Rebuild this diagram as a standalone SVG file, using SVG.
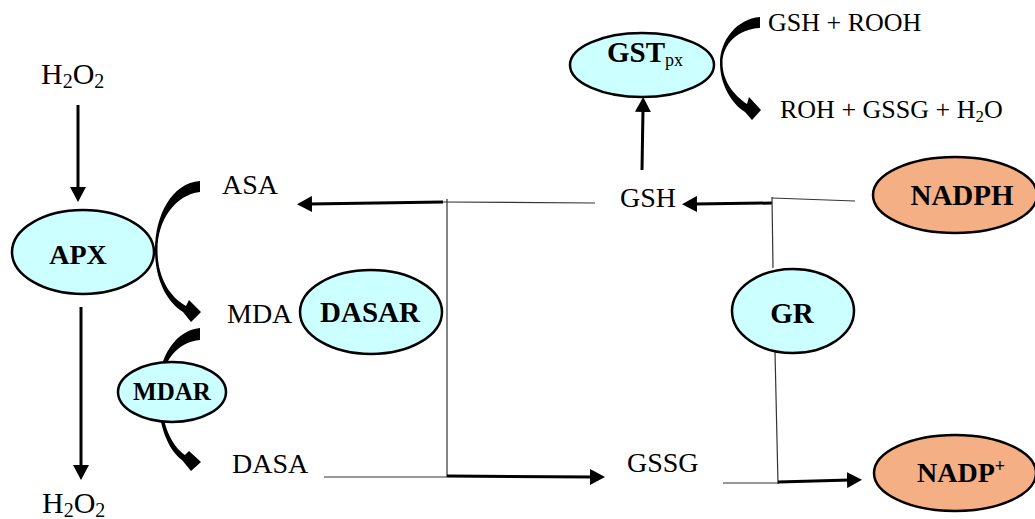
<svg xmlns="http://www.w3.org/2000/svg" width="1035" height="519" viewBox="0 0 1035 519">
  <defs>
    <style>
      .lbl { font-family: "Liberation Serif", "Times New Roman", serif; font-size: 28px; fill: #000; }
      .big { font-size: 30px; }
      .small { font-family: "Liberation Serif", "Times New Roman", serif; font-size: 26px; fill: #000; }
      .enz { font-family: "Liberation Serif", "Times New Roman", serif; font-weight: bold; fill: #000; text-anchor: middle; }
      .enz-left { font-family: "Liberation Serif", "Times New Roman", serif; font-weight: bold; fill: #000; text-anchor: start; }
      .cyan { fill: #CCFFFF; stroke: #000; stroke-width: 2.5; }
      .orange { fill: #F4B084; stroke: #000; stroke-width: 2.5; }
      .thick { stroke: #000; stroke-width: 3; fill: none; }
      .thin { stroke: #333; stroke-width: 1.2; fill: none; }
      .bend { fill: #000; stroke: none; }
    </style>
    <marker id="ah" markerUnits="userSpaceOnUse" markerWidth="16" markerHeight="16" refX="3" refY="8" orient="auto">
      <path d="M0,0 L15,8 L0,16 z" fill="#000"/>
    </marker>
  </defs>

  <rect width="1035" height="519" fill="#fff"/>

  <!-- connectors -->
  <g id="connectors">
    <!-- H2O2 in / out of APX -->
    <line class="thick" x1="78" y1="105" x2="78" y2="190" marker-end="url(#ah)"/>
    <line class="thick" x1="81" y1="307" x2="81" y2="468" marker-end="url(#ah)"/>

    <!-- curved arrows: ASA -> MDA, MDA -> DASA, GSH + ROOH -> products -->
    <path class="bend" d="M 200 181 C 172 183, 155 215, 155 250 C 155 280, 167 302, 183 312 L 191 322 L 201 312 L 189 300 L 186 306 C 170 297, 157.5 278, 157.5 250 C 157.5 220, 175 195, 200 192 Z"/>
    <path class="bend" d="M 200 328 C 177 330, 158 355, 158 392 C 158 425, 168 450, 182 460 L 191 471 L 201 462 L 189 451 L 185 455 C 172 446, 161 425, 161 392 C 161 360, 178 342, 200 340 Z"/>
    <path class="bend" d="M 760 17 C 737 19, 720 40, 720 63 C 720 85, 732 104, 745 112 L 752 120 L 761 110 L 749 97 L 747 104 C 735 96, 722.5 82, 722.5 63 C 722.5 44, 738 29, 760 28 Z"/>

    <!-- ascorbate / glutathione coupling -->
    <line class="thick" x1="443" y1="202" x2="309" y2="204" marker-end="url(#ah)"/>
    <line class="thin" x1="443" y1="202" x2="595" y2="203"/>
    <line class="thin" x1="447" y1="199" x2="447" y2="477"/>
    <line class="thin" x1="324" y1="477" x2="447" y2="477"/>
    <line class="thick" x1="447" y1="476" x2="593" y2="477" marker-end="url(#ah)"/>

    <!-- GSH -> GSTpx -->
    <line class="thick" x1="642" y1="170" x2="643" y2="109" marker-end="url(#ah)"/>

    <!-- NADPH / GR / NADP+ -->
    <line class="thick" x1="772" y1="203" x2="694" y2="204" marker-end="url(#ah)"/>
    <line class="thin" x1="772" y1="198" x2="855" y2="201"/>
    <line class="thin" x1="772" y1="197" x2="773" y2="268"/>
    <line class="thin" x1="775" y1="352" x2="778" y2="484"/>
    <line class="thin" x1="723" y1="483" x2="778" y2="483"/>
    <line class="thick" x1="778" y1="482" x2="850" y2="480" marker-end="url(#ah)"/>
  </g>

  <!-- metabolites -->
  <g id="h2o2-top">
    <text class="lbl big" x="41" y="84">H<tspan font-size="20" dy="4">2</tspan><tspan dy="-4">O</tspan><tspan font-size="20" dy="4">2</tspan></text>
  </g>
  <g id="h2o2-bottom">
    <text class="lbl big" x="42" y="513">H<tspan font-size="20" dy="4">2</tspan><tspan dy="-4">O</tspan><tspan font-size="20" dy="4">2</tspan></text>
  </g>
  <g id="asa"><text class="lbl" x="222" y="194">ASA</text></g>
  <g id="mda"><text class="lbl" x="227" y="323">MDA</text></g>
  <g id="dasa"><text class="lbl" x="232" y="473">DASA</text></g>
  <g id="gsh"><text class="lbl" x="620" y="207">GSH</text></g>
  <g id="gssg"><text class="lbl" x="627" y="472">GSSG</text></g>
  <g id="gsh-rooh"><text class="small" x="768" y="31">GSH + ROOH</text></g>
  <g id="roh-gssg-h2o"><text class="small" x="780" y="118">ROH + GSSG + H<tspan font-size="17" dy="4">2</tspan><tspan dy="-4">O</tspan></text></g>

  <!-- enzymes and cofactors -->
  <g id="apx">
    <ellipse class="cyan" cx="83" cy="252" rx="71" ry="42"/>
    <text class="enz" x="78" y="264" font-size="28">APX</text>
  </g>
  <g id="mdar">
    <ellipse class="cyan" cx="172" cy="392" rx="54" ry="30"/>
    <text class="enz" x="172" y="400" font-size="25">MDAR</text>
  </g>
  <g id="dasar">
    <ellipse class="cyan" cx="371" cy="312" rx="71" ry="42"/>
    <text class="enz" x="370" y="322" font-size="29">DASAR</text>
  </g>
  <g id="gstpx">
    <ellipse class="cyan" cx="642" cy="65" rx="72" ry="32"/>
    <text class="enz-left" x="607" y="62" font-size="29">GST<tspan font-weight="normal" font-size="18" dy="4">px</tspan></text>
  </g>
  <g id="gr">
    <ellipse class="cyan" cx="793" cy="311" rx="61" ry="42"/>
    <text class="enz" x="792" y="323" font-size="29">GR</text>
  </g>
  <g id="nadph">
    <ellipse class="orange" cx="955" cy="195" rx="82" ry="38"/>
    <text class="enz" x="962" y="205" font-size="29">NADPH</text>
  </g>
  <g id="nadp">
    <ellipse class="orange" cx="955" cy="473" rx="81" ry="38"/>
    <text class="enz-left" x="917" y="482" font-size="28">NADP<tspan font-size="18" dy="-10">+</tspan></text>
  </g>
</svg>
